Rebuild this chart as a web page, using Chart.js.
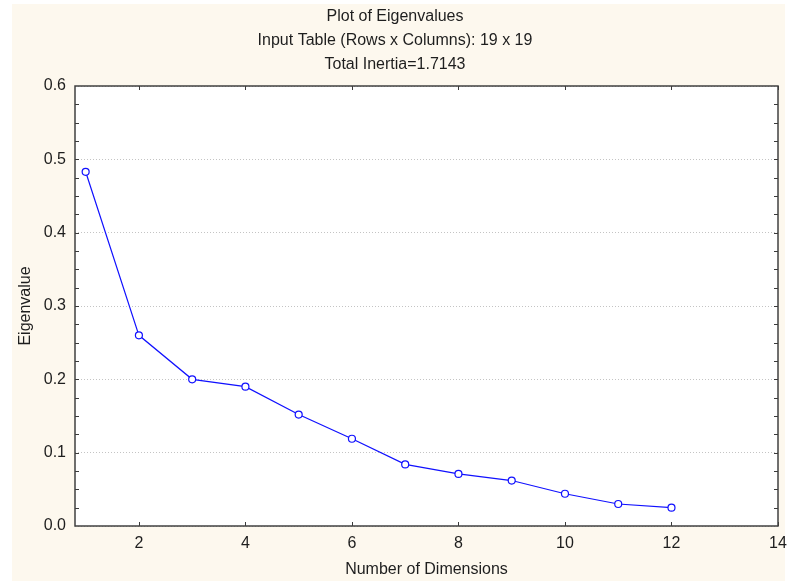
<!DOCTYPE html>
<html>
<head>
<meta charset="utf-8">
<script src="https://cdn.jsdelivr.net/npm/chart.js@4"></script>
<style>
    html, body { margin: 0; padding: 0; background: #ffffff; }
    #box { width: 788px; height: 581px; }
</style>
</head>
<body>
<div id="box"><canvas id="eigenChart" width="788" height="581"></canvas></div>
<script>
const dimensoes = [1, 2, 3, 4, 5, 6, 7, 8, 9, 10, 11, 12];
const autovalores = [0.483, 0.260, 0.200, 0.190, 0.152, 0.119, 0.084, 0.071, 0.062, 0.044, 0.030, 0.025];
const xTicks = [2, 4, 6, 8, 10, 12, 14];
const yTicks = [0.0, 0.1, 0.2, 0.3, 0.4, 0.5, 0.6];
const yMinor = 0.025;
const titulos = ["Plot of Eigenvalues", "Input Table (Rows x Columns): 19 x 19", "Total Inertia=1.7143"];

const fonte = "'Liberation Sans', Arial, sans-serif";
const corTexto = "#1e1e1e";

// fundo creme, área branca, moldura e marcas internas
const moldura = {
    id: "moldura",
    beforeDraw(chart) {
        const ctx = chart.ctx;
        const a = chart.chartArea;
        ctx.save();
        ctx.fillStyle = "#fdf8ee";
        ctx.fillRect(12, 4, chart.width - 15, chart.height - 4);
        ctx.fillStyle = "#ffffff";
        ctx.fillRect(a.left, a.top, a.right - a.left, a.bottom - a.top);
        ctx.restore();
    },
    beforeDatasetsDraw(chart) {
        const ctx = chart.ctx;
        const a = chart.chartArea;
        const x = chart.scales.x;
        const y = chart.scales.y;
        ctx.save();
        ctx.strokeStyle = "#3a3a3a";
        ctx.lineWidth = 1;
        ctx.beginPath();
        xTicks.forEach(v => {
            const px = Math.round(x.getPixelForValue(v)) + 0.5;
            ctx.moveTo(px, a.bottom);
            ctx.lineTo(px, a.bottom - 4);
            ctx.moveTo(px, a.top);
            ctx.lineTo(px, a.top + 4);
        });
        const n = Math.round((y.max - y.min) / yMinor);
        for (let i = 1; i < n; i++) {
            const py = Math.round(y.getPixelForValue(y.min + i * yMinor)) + 0.5;
            ctx.moveTo(a.left, py);
            ctx.lineTo(a.left + 4, py);
            ctx.moveTo(a.right, py);
            ctx.lineTo(a.right - 4, py);
        }
        ctx.stroke();
        ctx.lineWidth = 1.5;
        ctx.strokeStyle = "#404040";
        ctx.strokeRect(a.left, a.top, a.right - a.left, a.bottom - a.top);
        ctx.restore();
    }
};

const ctxEigen = document.getElementById("eigenChart").getContext("2d");

let eigenChart = new Chart(ctxEigen, {
    type: "line",
    data: {
        datasets: [
            {
                label: "Eigenvalue",
                data: dimensoes.map((d, i) => ({ x: d, y: autovalores[i] })),
                borderColor: "#1010ff",
                backgroundColor: "#ffffff",
                borderWidth: 1.2,
                pointRadius: 3.5,
                pointBorderWidth: 1.2,
                pointBorderColor: "#1010ff",
                pointBackgroundColor: "#ffffff",
                tension: 0
            }
        ]
    },
    options: {
        responsive: false,
        animation: false,
        layout: { padding: { left: 12, right: 10, top: 4, bottom: 0 } },
        plugins: {
            legend: { display: false },
            tooltip: { enabled: false },
            title: {
                display: true,
                text: titulos,
                color: corTexto,
                font: { family: fonte, size: 16, weight: "normal", lineHeight: 1.5 },
                padding: { top: 1, bottom: 9 }
            }
        },
        scales: {
            x: {
                type: "linear",
                min: 0.8,
                max: 14,
                afterBuildTicks: s => { s.ticks = xTicks.map(v => ({ value: v })); },
                afterFit: s => {
                    s.height = 55;
                    s.paddingLeft = 0;
                    s.paddingRight = 0;
                },
                grid: { display: false, drawTicks: false },
                border: { display: false },
                ticks: {
                    color: corTexto,
                    padding: 8,
                    maxRotation: 0,
                    font: { family: fonte, size: 16 }
                },
                title: {
                    display: true,
                    text: "Number of Dimensions",
                    color: corTexto,
                    font: { family: fonte, size: 16 },
                    padding: { top: 0, bottom: 2 }
                }
            },
            y: {
                type: "linear",
                min: 0,
                max: 0.6,
                afterBuildTicks: s => { s.ticks = yTicks.map(v => ({ value: v })); },
                afterFit: s => { s.width = 63; },
                grid: {
                    drawTicks: false,
                    color: "#c4c4c4",
                    lineWidth: 1
                },
                border: { display: false, dash: [1, 2] },
                ticks: {
                    color: corTexto,
                    padding: 9,
                    font: { family: fonte, size: 16 },
                    callback: v => v.toFixed(1)
                },
                title: {
                    display: true,
                    text: "Eigenvalue",
                    color: corTexto,
                    font: { family: fonte, size: 16 },
                    padding: { top: 4, bottom: 0 }
                }
            }
        }
    },
    plugins: [moldura]
});
</script>
</body>
</html>
